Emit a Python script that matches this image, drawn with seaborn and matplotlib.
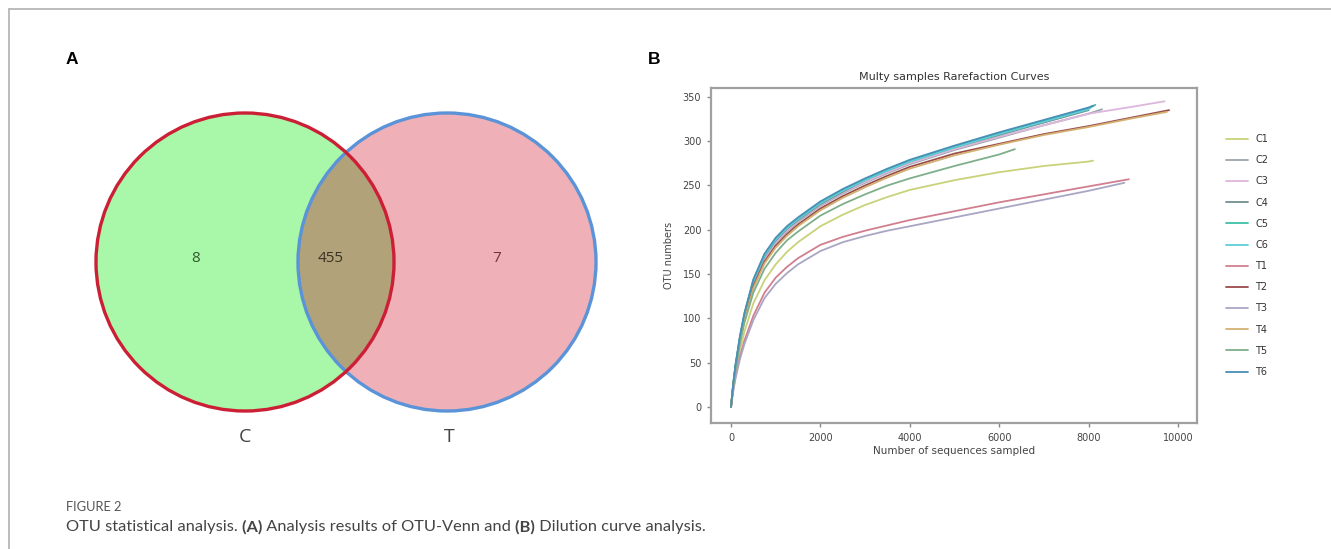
import matplotlib
matplotlib.use("Agg")
import matplotlib.pyplot as plt
import seaborn as sns
import pandas as pd
from matplotlib.patches import Circle
from matplotlib.lines import Line2D

# ---------------- data ----------------
venn_sets = ["C", "T"]
venn_counts = ["8", "455", "7"]

samples = ["C1", "C2", "C3", "C4", "C5", "C6", "T1", "T2", "T3", "T4", "T5", "T6"]

depth_base = [0, 50, 100, 200, 300, 500, 750, 1000, 1250, 1500, 2000, 2500,
              3000, 3500, 4000, 5000, 6000, 7000, 8000]

C1_depth = depth_base + [8100]
C1_otu = [0, 21, 38, 64, 85, 117, 143, 161, 175, 186, 204, 217, 228, 237, 245, 256, 265, 272, 277, 278]
C2_depth = depth_base + [8300]
C2_otu = [0, 25, 45, 77, 102, 139, 167, 185, 198, 209, 227, 241, 253, 264, 274, 290, 304, 318, 331, 336]
C3_depth = depth_base + [9000, 9700]
C3_otu = [0, 25, 45, 77, 102, 140, 168, 186, 199, 210, 228, 242, 254, 265, 275, 291, 305, 318, 331, 339, 345]
C4_depth = depth_base
C4_otu = [0, 25, 46, 78, 103, 141, 170, 188, 201, 211, 229, 243, 256, 267, 277, 293, 307, 321, 335]
C5_depth = depth_base + [8150]
C5_otu = [0, 26, 47, 79, 105, 143, 172, 190, 203, 213, 231, 245, 257, 268, 278, 294, 309, 323, 337, 341]
C6_depth = depth_base + [8050]
C6_otu = [0, 25, 46, 78, 104, 142, 171, 189, 202, 212, 230, 244, 256, 267, 277, 293, 308, 322, 336, 338]
T1_depth = depth_base + [8900]
T1_otu = [0, 19, 34, 57, 75, 103, 129, 146, 158, 168, 183, 192, 199, 205, 211, 221, 231, 240, 249, 257]
T2_depth = depth_base + [9000, 9800]
T2_otu = [0, 24, 44, 75, 99, 136, 164, 182, 195, 206, 224, 238, 250, 261, 271, 286, 297, 308, 317, 327, 335]
T3_depth = depth_base + [8800]
T3_otu = [0, 18, 32, 54, 71, 98, 123, 139, 151, 161, 176, 186, 193, 199, 204, 214, 224, 234, 244, 253]
T4_depth = depth_base + [9000, 9750]
T4_otu = [0, 24, 43, 74, 98, 134, 162, 180, 193, 204, 222, 236, 248, 259, 269, 284, 296, 307, 316, 326, 333]
T5_depth = [0, 50, 100, 200, 300, 500, 750, 1000, 1250, 1500, 2000, 2500,
            3000, 3500, 4000, 5000, 6000, 6350]
T5_otu = [0, 23, 42, 72, 95, 129, 156, 174, 188, 198, 216, 229, 240, 250, 258, 272, 285, 291]
T6_depth = depth_base + [8100]
T6_otu = [0, 26, 47, 80, 106, 144, 173, 191, 204, 214, 232, 246, 258, 269, 279, 295, 310, 324, 338, 340]

curves = {
    "C1": (C1_depth, C1_otu), "C2": (C2_depth, C2_otu), "C3": (C3_depth, C3_otu),
    "C4": (C4_depth, C4_otu), "C5": (C5_depth, C5_otu), "C6": (C6_depth, C6_otu),
    "T1": (T1_depth, T1_otu), "T2": (T2_depth, T2_otu), "T3": (T3_depth, T3_otu),
    "T4": (T4_depth, T4_otu), "T5": (T5_depth, T5_otu), "T6": (T6_depth, T6_otu),
}

colors = ["#c9d27a", "#9aa5ad", "#dcb6dc", "#6f8f8f", "#3fbfa6", "#5ccfd6",
          "#d17f8f", "#9a4a4a", "#a9a6c4", "#d2b173", "#7fae8a", "#4a8fb5"]

x_ticks = [0, 2000, 4000, 6000, 8000, 10000]
y_ticks = [0, 50, 100, 150, 200, 250, 300, 350]

# ---------------- figure ----------------
sns.set_theme(style="white")
plt.rcParams["font.family"] = ["DejaVu Sans"]

W, H = 1331, 549
fig = plt.figure(figsize=(W / 100, H / 100), dpi=100)
fig.patch.set_facecolor("white")

def fx(px):
    return px / W

def fy(py):
    return 1 - py / H

# page frame lines
fig.add_artist(Line2D([fx(9), 1], [fy(9), fy(9)], color="#b0b0b0", lw=1.2))
fig.add_artist(Line2D([fx(9), fx(9)], [fy(9), 0], color="#b0b0b0", lw=1.2))

# panel letters
fig.text(fx(72), fy(60), "A", fontsize=12.5, fontweight="bold", ha="center", va="center",
         family="Liberation Sans", color="black")
fig.text(fx(654), fy(60), "B", fontsize=12.5, fontweight="bold", ha="center", va="center",
         family="Liberation Sans", color="black")

# ---------------- panel A: Venn ----------------
axA = fig.add_axes([fx(60), fy(470), fx(640) - fx(60), fy(90) - fy(470)])
axA.set_xlim(60, 640)
axA.set_ylim(470, 90)
axA.set_aspect("equal")
axA.axis("off")

r = 149
cL = (245, 262)
cR = (447, 262)
axA.add_patch(Circle(cL, r, facecolor="#a9f7a9", edgecolor="none", zorder=1))
axA.add_patch(Circle(cR, r, facecolor="#efb0b8", edgecolor="none", zorder=1))
overlap = Circle(cR, r, facecolor="#b2a27a", edgecolor="none", zorder=2)
axA.add_patch(overlap)
overlap.set_clip_path(Circle(cL, r, transform=axA.transData))
axA.add_patch(Circle(cR, r, facecolor="none", edgecolor="#5b93d8", lw=2.4, zorder=3))
axA.add_patch(Circle(cL, r, facecolor="none", edgecolor="#cc1f35", lw=2.4, zorder=4))

count_pos = [(196, 259), (331, 259), (497, 259)]
count_cols = ["#2f5a2f", "#3a3325", "#6b3535"]
for (px, py), t, c in zip(count_pos, venn_counts, count_cols):
    axA.text(px, py, t, fontsize=11, ha="center", va="center", color=c, family="Open Sans")
for (px, py), t in zip([(245, 437), (449, 437)], venn_sets):
    axA.text(px, py, t, fontsize=14, ha="center", va="center", color="#444444", family="Open Sans")

# ---------------- panel B: rarefaction ----------------
rows = []
for s in samples:
    d, v = curves[s]
    for xx, yy in zip(d, v):
        rows.append({"sample": s, "depth": xx, "otu": yy})
df = pd.DataFrame(rows)

axB = fig.add_axes([fx(711), fy(423), fx(1197) - fx(711), fy(88) - fy(423)])
sns.lineplot(data=df, x="depth", y="otu", hue="sample", hue_order=samples,
             palette=dict(zip(samples, colors)), estimator=None, sort=False,
             linewidth=1.3, ax=axB)
axB.set_xlim(-447, 10425)
axB.set_ylim(-18, 360)
axB.set_xticks(x_ticks)
axB.set_yticks(y_ticks)
axB.tick_params(axis="both", which="both", direction="out", length=3, width=1,
                color="#888888", labelsize=7, labelcolor="#444444", pad=4,
                bottom=True, left=True)
for sp in axB.spines.values():
    sp.set_color("#a0a0a0")
    sp.set_linewidth(1.6)
axB.set_xlabel("Number of sequences sampled", fontsize=7.5, color="#444444", labelpad=2)
axB.set_ylabel("OTU numbers", fontsize=7, color="#444444", labelpad=6)
axB.set_title("Multy samples Rarefaction Curves", fontsize=8, color="#333333", pad=6)
axB.grid(False)

handles, labels = axB.get_legend_handles_labels()
axB.legend(handles, labels, loc="upper left",
           bbox_to_anchor=(fx(1226), fy(134)), bbox_transform=fig.transFigure,
           frameon=False, fontsize=7, handlelength=2.3, handletextpad=0.7,
           labelspacing=1.15, borderpad=0, borderaxespad=0, labelcolor="#333333")

# ---------------- caption ----------------
fig.text(fx(66), fy(507), "FIGURE 2", fontsize=9.3, color="#555555", ha="left", va="center",
         family="Lato")

renderer = fig.canvas.get_renderer()
segments = [("OTU statistical analysis.", "normal"), (" (A)", "bold"),
            (" Analysis results of OTU-Venn and", "normal"), (" (B)", "bold"),
            (" Dilution curve analysis.", "normal")]
xpos = fx(66)
for txt, wt in segments:
    t = fig.text(xpos, fy(527), txt, fontsize=11.8, color="#444444", ha="left",
                 va="center", family="Lato", fontweight=wt)
    bb = t.get_window_extent(renderer)
    xpos += bb.width / W

fig.savefig("out.png", dpi=100, facecolor="white")
